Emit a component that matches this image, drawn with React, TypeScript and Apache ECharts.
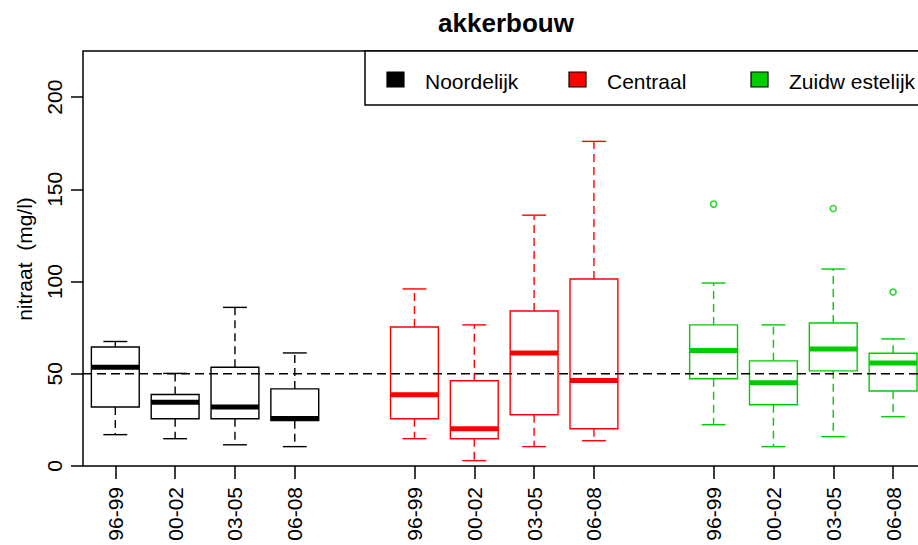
import React, { useEffect, useRef } from 'react';
import * as echarts from 'echarts';

const chartTitle = 'akkerbouw';
const yAxisTitle = 'nitraat  (mg/l)';
const periods = ['96-99', '00-02', '03-05', '06-08'];
const regions = ['Noordelijk', 'Centraal', 'Zuidw estelijk'];
const regionColors = ['#000000', '#FF0000', '#00CD00'];
const boxPositions = [
  [1, 2, 3, 4],
  [6, 7, 8, 9],
  [11, 12, 13, 14],
];
// [lower whisker, Q1, median, Q3, upper whisker]
const noordelijkStats = [
  [17, 32, 53.5, 64.5, 67.5],
  [14.8, 25.6, 34.5, 38.8, 50.2],
  [11.5, 25.6, 32, 53.5, 86],
  [10.5, 24.6, 25.8, 41.8, 61.3],
];
const centraalStats = [
  [14.8, 25.6, 38.6, 75.4, 96],
  [2.9, 14.8, 20.2, 46.2, 76.5],
  [10.5, 27.8, 61.3, 84, 136],
  [13.7, 20.2, 46.4, 101.4, 176],
];
const zuidwestelijkStats = [
  [22.4, 47.3, 62.6, 76.5, 99.2],
  [10.5, 33.2, 45.1, 57, 76.5],
  [15.9, 51.6, 63.5, 77.5, 106.8],
  [26.7, 40.7, 55.9, 61.1, 68.9],
];
const noordelijkOutliers: number[][] = [];
const centraalOutliers: number[][] = [];
const zuidwestelijkOutliers = [
  [11, 142],
  [13, 139.6],
  [14, 94.3],
];
const yTicks = [0, 50, 100, 150, 200];
const normValue = 50;
const xRange = [0.46, 14.5];
const yRange = [0, 225];

const FONT = '"Liberation Sans", Arial, Helvetica, sans-serif';

export default function App() {
  const ref = useRef<HTMLDivElement>(null);
  useEffect(() => {
    if (!ref.current) return;
    const chart = echarts.init(ref.current, undefined, { renderer: 'svg' });
    const allStats = [noordelijkStats, centraalStats, zuidwestelijkStats];
    const allOutliers = [noordelijkOutliers, centraalOutliers, zuidwestelijkOutliers];
    const labelMap: Record<string, string> = {};
    const tickValues: number[] = [];
    boxPositions.forEach((ps) =>
      ps.forEach((p, i) => {
        labelMap[String(p)] = periods[i];
        tickValues.push(p);
      })
    );

    const boxSeries = regions.map((name, r) => ({
      type: 'custom',
      name,
      data: allStats[r].map((s, i) => [boxPositions[r][i], ...s]),
      encode: { x: 0, y: [1, 2, 3, 4, 5] },
      z: 3,
      renderItem: (params: any, api: any) => {
        const color = regionColors[r];
        const x = api.value(0);
        const lo = api.coord([x, api.value(1)]);
        const q1 = api.coord([x, api.value(2)]);
        const med = api.coord([x, api.value(3)]);
        const q3 = api.coord([x, api.value(4)]);
        const hi = api.coord([x, api.value(5)]);
        const w = api.size([0.8, 0])[0];
        const cw = w / 2;
        const cx = lo[0];
        const lw = 1.4;
        return {
          type: 'group',
          children: [
            {
              type: 'line',
              shape: { x1: cx, y1: q3[1], x2: cx, y2: hi[1] },
              style: { stroke: color, lineWidth: lw, lineDash: [8, 5] },
            },
            {
              type: 'line',
              shape: { x1: cx, y1: q1[1], x2: cx, y2: lo[1] },
              style: { stroke: color, lineWidth: lw, lineDash: [8, 5] },
            },
            {
              type: 'line',
              shape: { x1: cx - cw / 2, y1: hi[1], x2: cx + cw / 2, y2: hi[1] },
              style: { stroke: color, lineWidth: lw },
            },
            {
              type: 'line',
              shape: { x1: cx - cw / 2, y1: lo[1], x2: cx + cw / 2, y2: lo[1] },
              style: { stroke: color, lineWidth: lw },
            },
            {
              type: 'rect',
              shape: { x: cx - w / 2, y: q3[1], width: w, height: q1[1] - q3[1] },
              style: { fill: 'none', stroke: color, lineWidth: lw },
            },
            {
              type: 'line',
              shape: { x1: cx - w / 2, y1: med[1], x2: cx + w / 2, y2: med[1] },
              style: { stroke: color, lineWidth: 5, lineCap: 'butt' },
            },
          ],
        };
      },
    }));

    const outlierSeries = regions.map((name, r) => ({
      type: 'scatter',
      name: name + ' uitschieters',
      data: allOutliers[r],
      symbol: 'circle',
      symbolSize: 6,
      itemStyle: { color: 'rgba(0,0,0,0)', borderColor: regionColors[r], borderWidth: 1.6 },
      z: 4,
    }));

    const legendGraphics: any[] = [
      {
        type: 'rect',
        z: 100,
        shape: { x: 365, y: 51, width: 600, height: 54 },
        style: { fill: '#fff', stroke: '#000', lineWidth: 1.5 },
      },
    ];
    regions.forEach((name, r) => {
      legendGraphics.push({
        type: 'rect',
        z: 101,
        shape: { x: 387 + r * 182, y: 72, width: 17, height: 15 },
        style: { fill: regionColors[r], stroke: '#000', lineWidth: 1.2 },
      });
      legendGraphics.push({
        type: 'text',
        z: 101,
        x: 425 + r * 182,
        y: 81,
        style: {
          text: name,
          font: `21px ${FONT}`,
          fill: '#000',
          textAlign: 'left',
          textVerticalAlign: 'middle',
        },
      });
    });

    chart.setOption({
      animation: false,
      backgroundColor: '#fff',
      textStyle: { fontFamily: FONT },
      grid: {
        left: 83,
        top: 51,
        width: 840,
        height: 415,
        show: true,
        borderColor: '#000',
        borderWidth: 1.5,
        backgroundColor: 'transparent',
        containLabel: false,
        outerBoundsMode: 'none',
      },
      xAxis: {
        type: 'value',
        min: xRange[0],
        max: xRange[1],
        axisLine: { show: false },
        splitLine: { show: false },
        axisTick: { show: true, length: 13, lineStyle: { color: '#000', width: 1.5 }, customValues: tickValues },
        axisLabel: {
          customValues: tickValues,
          rotate: 90,
          margin: 21,
          fontSize: 21,
          color: '#000',
          fontFamily: FONT,
          formatter: (v: number) => labelMap[String(v)] ?? '',
        },
      },
      yAxis: {
        type: 'value',
        min: yRange[0],
        max: yRange[1],
        axisLine: { show: false },
        splitLine: { show: false },
        axisTick: { show: true, length: 12, lineStyle: { color: '#000', width: 1.5 }, customValues: yTicks },
        axisLabel: {
          customValues: yTicks,
          rotate: 90,
          margin: 18,
          fontSize: 21,
          color: '#000',
          fontFamily: FONT,
        },
      },
      graphic: [
        {
          type: 'text',
          x: 506,
          y: 23,
          style: {
            text: chartTitle,
            font: `bold 26px ${FONT}`,
            fill: '#000',
            textAlign: 'center',
            textVerticalAlign: 'middle',
          },
        },
        {
          type: 'text',
          x: 24,
          y: 259,
          rotation: Math.PI / 2,
          style: {
            text: yAxisTitle,
            font: `21px ${FONT}`,
            fill: '#000',
            textAlign: 'center',
            textVerticalAlign: 'middle',
          },
        },
        ...legendGraphics,
      ],
      series: [
        ...boxSeries,
        ...outlierSeries,
        {
          type: 'line',
          name: 'norm',
          data: [
            [xRange[0], normValue],
            [xRange[1], normValue],
          ],
          symbol: 'none',
          lineStyle: { color: '#000', width: 1.4, type: [9, 5] },
          z: 5,
          silent: true,
        },
      ],
    });
    return () => chart.dispose();
  }, []);
  return (
    <div
      ref={ref}
      style={{ position: 'fixed', left: 0, top: 0, width: 918, height: 545, background: '#fff' }}
    />
  );
}
